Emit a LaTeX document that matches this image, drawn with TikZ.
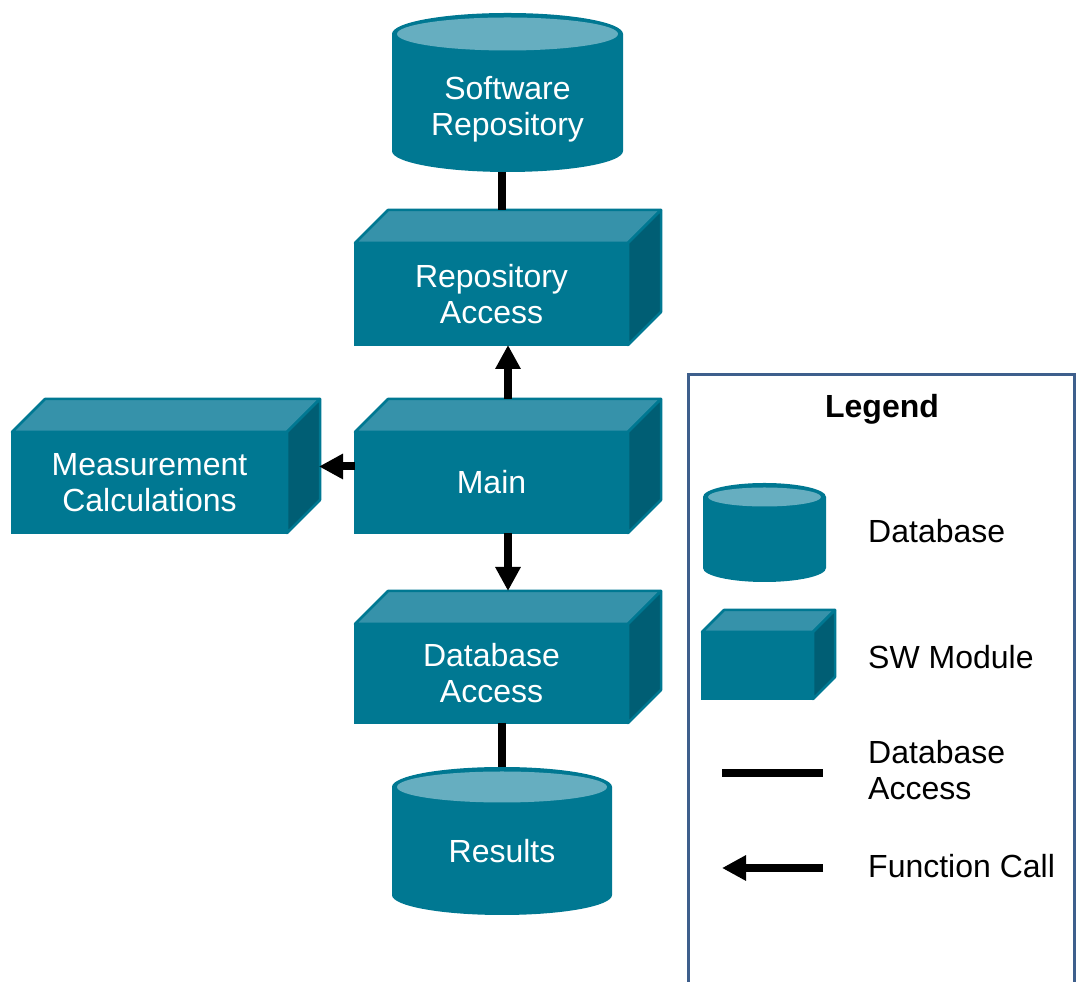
\documentclass[tikz,border=0pt]{standalone}
\usepackage{fontspec}
\setmainfont{Liberation Sans}
\usetikzlibrary{arrows.meta,calc}

\definecolor{tealmain}{RGB}{0,120,146}
\definecolor{tealtop}{RGB}{54,146,170}
\definecolor{tealside}{RGB}{0,94,116}
\definecolor{tealcap}{RGB}{102,174,192}
\definecolor{legendblue}{RGB}{62,95,140}

\pgfdeclarelayer{background}
\pgfsetlayers{background,main}

% database cylinder filling the bounding box of node #1, end ellipse radius #2 (pt)
\newcommand\dbcylinder[2]{%
  \fill[tealmain] let \p1=(#1.north west), \p2=(#1.south east), \n1={(\x2-\x1)/2},
    \n4={#2pt} in
    (\x1,\y1-\n4) -- (\x1,\y2+\n4)
    arc[x radius=\n1, y radius=\n4, start angle=180, end angle=360]
    -- (\x2,\y1-\n4) -- cycle;
  \fill[tealmain] let \p1=(#1.north west), \p2=(#1.south east), \n1={(\x2-\x1)/2},
    \n4={#2pt} in
    (\x1+\n1,\y1-\n4) ellipse[x radius=\n1, y radius=\n4];
  \fill[tealcap] let \p1=(#1.north west), \p2=(#1.south east), \n1={(\x2-\x1)/2},
    \n2={\n1-5pt}, \n4={#2pt}, \n3={#2pt-4.5pt} in
    (\x1+\n1,\y1-\n4) ellipse[x radius=\n2, y radius=\n3];
}

\tikzset{
  lbl/.style={font=\fontsize{32}{36}\selectfont, align=center},
  module/.style={lbl, text=white, fill=tealmain, draw=tealmain, line width=2pt,
    outer sep=0pt, inner sep=0pt},
  db/.style={outer sep=0pt, inner sep=0pt},
  dbtext/.style={lbl, text=white},
  face/.style={draw=tealmain, line width=2.5pt, line join=round},
  dbline/.style={line width=8pt},
  call/.style={line width=8pt, -{Triangle[length=24pt,width=24pt]}},
  legendtext/.style={lbl, align=left, anchor=west, text=black, inner sep=0pt},
}

\begin{document}
\begin{tikzpicture}[x=1pt,y=1pt]
\useasboundingbox (0,0) rectangle (1077,982);
\clip (0,0) rectangle (1077,982);

% databases
\node[db, minimum width=231, minimum height=159,
  label={[dbtext, yshift=-17]center:{Software\\Repository}}] (swrepo) at (507.5,889.5) {};
\node[db, minimum width=220, minimum height=148,
  label={[dbtext, yshift=-10]center:{Results}}] (results) at (502,141) {};

% software modules (front faces)
\node[module, minimum width=273, minimum height=102] (repo) at (491.5,688) {Repository\\Access};
\node[module, minimum width=273, minimum height=101] (main) at (491.5,499.5) {\raisebox{-2pt}{Main}};
\node[module, minimum width=275, minimum height=101] (meas) at (149.5,499.5) {Measurement\\Calculations};
\node[module, minimum width=273, minimum height=99] (dba) at (491.5,308.5) {Database\\Access};

% legend
\draw[legendblue, line width=3.5pt] (688.5,-30) -- (688.5,607.5) -- (1074.5,607.5) -- (1074.5,-30);
\node[lbl, font=\fontsize{32}{36}\selectfont\bfseries] (legendtitle) at (882,573) {Legend};
\node[db, minimum width=123, minimum height=99] (lgdb) at (764.5,449.5) {};
\node[legendtext] (lgdbtext) at (868,451) {Database};
\node[module, minimum width=111, minimum height=67] (lgmod) at (757.5,316.5) {};
\node[legendtext] (lgmodtext) at (868,325) {SW Module};
\coordinate (dbl1) at (722,209);
\coordinate (dbl2) at (823,209);
\node[legendtext] (lgdbltext) at (868,211.5) {Database\\Access};
\coordinate (fc1) at (823,114);
\coordinate (fc2) at (722,114);
\node[legendtext] (lgfctext) at (868,116) {Function Call};

\begin{pgfonlayer}{background}
  \dbcylinder{swrepo}{21}
  \dbcylinder{results}{20}
  \dbcylinder{lgdb}{14}
  \foreach \n/\d in {repo/33,main/33,meas/33,dba/33,lgmod/22}{
    \filldraw[face, fill=tealtop] (\n.north west) -- ([xshift=\d,yshift=\d]\n.north west)
      -- ([xshift=\d,yshift=\d]\n.north east) -- (\n.north east) -- cycle;
    \filldraw[face, fill=tealside] (\n.north east) -- ([xshift=\d,yshift=\d]\n.north east)
      -- ([xshift=\d,yshift=\d]\n.south east) -- (\n.south east) -- cycle;
  }
\end{pgfonlayer}

% connectors
\draw[dbline] ([xshift=-5.5]swrepo.south) -- ([xshift=10.5,yshift=33]repo.north);
\draw[call] ([xshift=16.5,yshift=33]main.north) -- ([xshift=16.5]repo.south);
\draw[call] ([yshift=16]main.west) -- ([xshift=32,yshift=16]meas.east);
\draw[call] ([xshift=16.5]main.south) -- ([xshift=16.5,yshift=33]dba.north);
\draw[dbline] ([xshift=10.5]dba.south) -- (results.north);
\draw[dbline] (dbl1) -- (dbl2);
\draw[call] (fc1) -- (fc2);
\end{tikzpicture}
\end{document}
